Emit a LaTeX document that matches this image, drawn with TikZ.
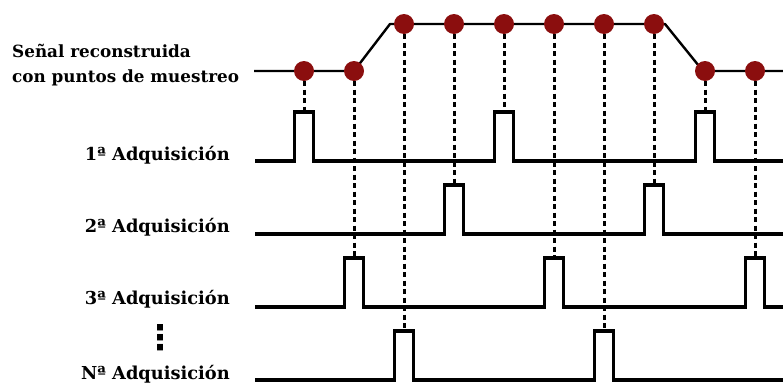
\documentclass[tikz,border=0pt]{standalone}
\usepackage{fontspec}
\newfontfamily\lbl{DejaVu Serif}
\newfontfamily\sym{DejaVu Sans}
\definecolor{sigred}{RGB}{139,14,14}
\begin{document}
\begin{tikzpicture}[x=1pt,y=-1pt,
  wave/.style={line width=3.4pt, line join=miter},
  sig/.style={line width=2.4pt, line join=round},
  samp/.style={circle, fill=sigred, minimum size=20pt, inner sep=0pt},
  guide/.style={line width=3pt, dash pattern=on 5pt off 3.5pt},
  lab/.style={font=\lbl\bfseries\fontsize{17.8}{18}\selectfont, inner sep=0pt},
  labs/.style={font=\lbl\bfseries\fontsize{16.8}{18}\selectfont, inner sep=0pt}]
\useasboundingbox (0,0) rectangle (783,383);

% labels
\node[labs, anchor=base west] (s1) at (12,57) {Señal reconstruida};
\node[labs, anchor=base west] (s2) at (12,82) {con puntos de muestreo};
\node[lab, anchor=base east] (l1) at (230,160) {1ª Adquisición};
\node[lab, anchor=base east] (l2) at (230,232) {2ª Adquisición};
\node[lab, anchor=base east] (l3) at (230,304) {3ª Adquisición};
\node[font=\sym\bfseries\fontsize{34}{34}\selectfont, inner sep=0pt] (vd) at (160,338) {⋮};
\node[lab, anchor=base east] (ln) at (230,379) {Nª Adquisición};

% reconstructed signal
\draw[sig] (254,71) -- (354,71) -- (390,24) -- (665,24) -- (703,71) -- (783,71);

% pulse trains
\draw[wave] (255,161) -- (294.5,161) -- ++(0,-49) -- ++(19,0) -- ++(0,49)
  -- (494.5,161) -- ++(0,-49) -- ++(19,0) -- ++(0,49)
  -- (695.5,161) -- ++(0,-49) -- ++(19,0) -- ++(0,49) -- (783,161);
\draw[wave] (255,234) -- (444.5,234) -- ++(0,-49) -- ++(19,0) -- ++(0,49)
  -- (644.5,234) -- ++(0,-49) -- ++(19,0) -- ++(0,49) -- (783,234);
\draw[wave] (255,307) -- (344.5,307) -- ++(0,-49) -- ++(19,0) -- ++(0,49)
  -- (544.5,307) -- ++(0,-49) -- ++(19,0) -- ++(0,49)
  -- (745.5,307) -- ++(0,-49) -- ++(19,0) -- ++(0,49) -- (783,307);
\draw[wave] (255,380) -- (394.5,380) -- ++(0,-49) -- ++(19,0) -- ++(0,49)
  -- (594.5,380) -- ++(0,-49) -- ++(19,0) -- ++(0,49) -- (783,380);

% pulse tops
\coordinate (t1) at (304,112);
\coordinate (t2) at (354,258);
\coordinate (t3) at (404,331);
\coordinate (t4) at (454,185);
\coordinate (t5) at (504,112);
\coordinate (t6) at (554,258);
\coordinate (t7) at (604,331);
\coordinate (t8) at (654,185);
\coordinate (t9) at (705,112);
\coordinate (t10) at (755,258);

% sample points
\node[samp] (d1) at (304,71) {};
\node[samp] (d2) at (354,71) {};
\node[samp] (d3) at (404,24) {};
\node[samp] (d4) at (454,24) {};
\node[samp] (d5) at (504,24) {};
\node[samp] (d6) at (554,24) {};
\node[samp] (d7) at (604,24) {};
\node[samp] (d8) at (654,24) {};
\node[samp] (d9) at (705,71) {};
\node[samp] (d10) at (755,71) {};

% guides
\foreach \i in {1,...,10} {\draw[guide] (d\i) -- (t\i);}
\end{tikzpicture}
\end{document}
